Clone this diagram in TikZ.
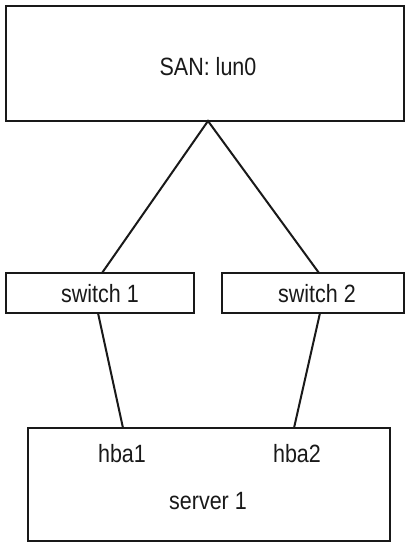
\documentclass[tikz,border=0pt]{standalone}
\usepackage{fontspec}
\setmainfont{Liberation Sans}
\newcommand{\cond}[1]{\scalebox{0.86}[1]{#1}}
\begin{document}
\begin{tikzpicture}[x=1pt,y=-1pt,
  box/.style={draw=black!90, line width=1.8pt, rectangle, inner sep=0pt},
  lbl/.style={font=\fontsize{25}{28}\selectfont, text=black!90, inner sep=0pt},
  link/.style={draw=black!90, line width=2pt}]
\useasboundingbox (0,0) rectangle (405,543);
\node[box, minimum width=398pt, minimum height=115pt] (san) at (205,63.5) {};
\node[lbl] (santext) at (208,67) {\cond{SAN: lun0}};
\node[box, minimum width=188pt, minimum height=40pt] (sw1) at (100,293) {};
\node[lbl] (sw1text) at (100,294) {\cond{switch 1}};
\node[box, minimum width=182pt, minimum height=40pt] (sw2) at (313,293) {};
\node[lbl] (sw2text) at (317,294) {\cond{switch 2}};
\node[box, minimum width=362pt, minimum height=113pt] (srv) at (209,484.5) {};
\node[lbl] (hba1) at (122,454) {\cond{hba1}};
\node[lbl] (hba2) at (297,454) {\cond{hba2}};
\node[lbl] (srvtext) at (208,501) {\cond{server 1}};
\coordinate (apex) at (208,121);
\coordinate (s1t) at (102,273);
\coordinate (s2t) at (319,273);
\coordinate (s1b) at (98,313);
\coordinate (s2b) at (320,313);
\coordinate (h1t) at (123,428);
\coordinate (h2t) at (294,428);
\draw[link] (s1t) -- (apex) -- (s2t);
\draw[link] (s1b) -- (h1t);
\draw[link] (s2b) -- (h2t);
\end{tikzpicture}
\end{document}
